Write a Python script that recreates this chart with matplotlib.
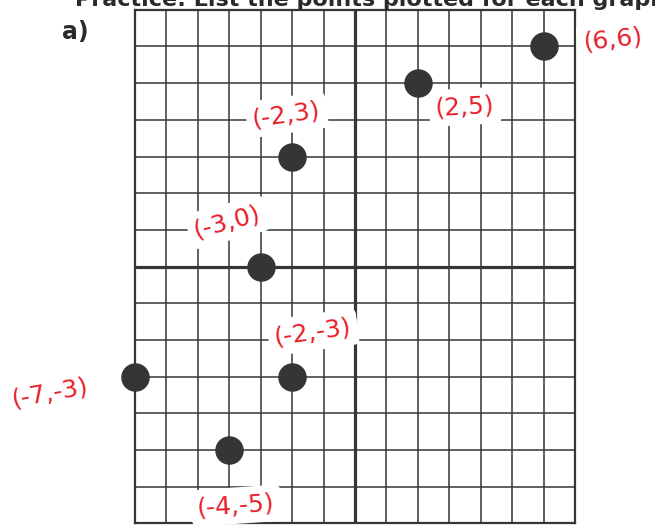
import matplotlib
matplotlib.use("Agg")
import matplotlib.pyplot as plt
import numpy as np

# Points plotted on the grid (a)
xs = [6, 2, -2, -3, -2, -7, -4]
ys = [6, 5, 3, 0, -3, -3, -5]
labels = ["(6,6)", "(2,5)", "(-2,3)", "(-3,0)", "(-2,-3)", "(-7,-3)", "(-4,-5)"]

# where each handwritten label sits, relative to its dot (points) and its tilt
offsets = [(50, 5), (34, -17), (-4, 30), (-24, 32), (15, 32), (-61, -12), (5, -40)]
tilts = [6, 3, 8, 15, 8, 10, 4]

GRID = "#353535"
INK = "#e8202a"

fig = plt.figure(figsize=(6.55, 5.32), dpi=100)
ax = fig.add_axes([0.2061, 0.016, 0.6718, 0.9656])

ax.set_xlim(-7, 7)
ax.set_ylim(-7, 7)
ticks = np.arange(-7, 8)
for t in ticks:
    lw = 2.3 if t == 0 else 1.1
    ax.axvline(t, color=GRID, lw=lw, zorder=1)
    ax.axhline(t, color=GRID, lw=lw, zorder=1)
ax.set_xticks([])
ax.set_yticks([])
for s in ax.spines.values():
    s.set_color(GRID)
    s.set_linewidth(1.6)

ax.plot(xs, ys, "o", color="#353535", markersize=19.5, zorder=5, clip_on=False)

for x, y, lab, off, rot in zip(xs, ys, labels, offsets, tilts):
    ax.annotate(lab, xy=(x, y), xytext=off, textcoords="offset points",
                ha="center", va="center", rotation=rot, color=INK,
                fontsize=18, zorder=4, annotation_clip=False,
                bbox=dict(boxstyle="round,pad=0.25", fc="white", ec="none"))

# worksheet text around the grid (the scan cuts the heading off at the top)
fig.text(0.115, 0.988, "Practice: List the points plotted for each graph",
         fontsize=16, fontweight="bold", color="#2a2a2a", va="baseline", ha="left")
fig.text(0.094, 0.94, "a)", fontsize=17, fontweight="bold", color="#2a2a2a",
         ha="left", va="center")

fig.savefig("out.png", dpi=100, facecolor="white")
